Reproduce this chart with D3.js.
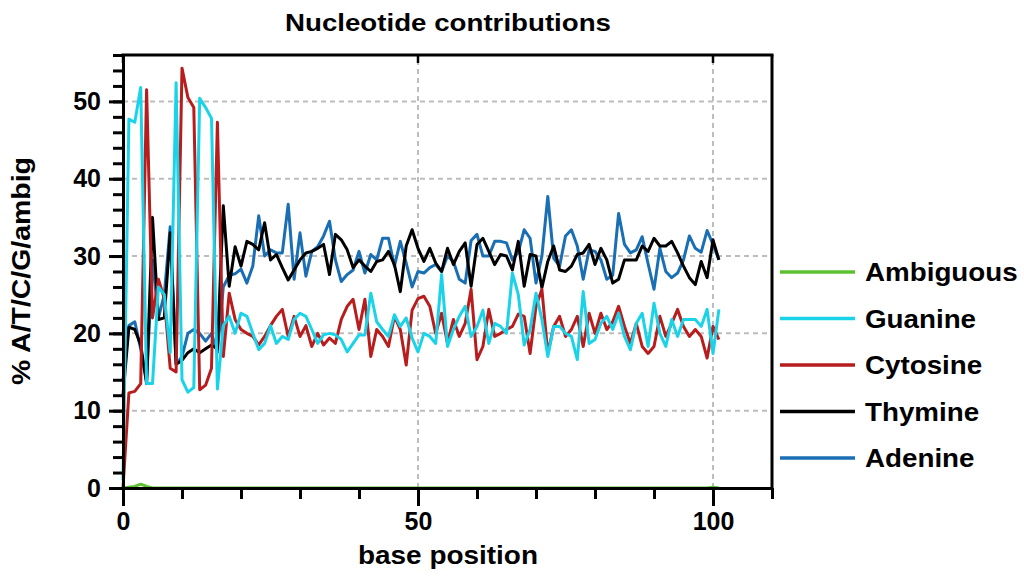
<!DOCTYPE html>
<html>
<head>
<meta charset="utf-8">
<script src="https://cdn.jsdelivr.net/npm/d3@7"></script>
<style>
  body { margin: 0; background: #fff; }
  svg text { font-family: "Liberation Sans", Arial, sans-serif; font-weight: bold; fill: #000; }
</style>
</head>
<body>
<div id="chart"></div>
<script>
// per-base percentages, positions 0..101
const positions = d3.range(0, 102)

const adenine = [
  14, 21, 21.5, 18, 13.8, 29.5, 22, 25, 33.8, 16, 17, 20, 20.5, 20, 19, 20, 17.5, 26,
  27.5, 27.7, 28.3, 26.5, 28.7, 35.2, 30, 30.8, 30.4, 30.4, 36.7, 27, 33, 27.4, 30.6, 31.2,
  32.6, 34.5, 29.5, 26.7, 27.6, 28.2, 30.6, 27.8, 30.2, 29.5, 32.3, 32.3, 28.7, 31.9, 29.1, 26, 28,
  27.8, 28.5, 28.9, 28, 30, 29.3, 27, 26.5, 32, 32.8, 30, 30, 31.9, 31.9, 31.7, 29.5, 30.5,
  33.4, 32.3, 26.5, 30, 37.7, 29.7, 28.7, 32.6, 33.4, 31.3, 27, 30.8, 30.6, 29.5, 27, 27.5,
  35.5, 31.5, 30.4, 30.8, 32.5, 29, 25.7, 31, 28, 27.2, 27.8, 29.5, 32.6, 31, 30.5, 33.3, 31.5, 29.5
]
const thymine = [
  12, 20.8, 20.5, 18.5, 13.5, 35, 21.8, 22, 33, 16, 16.5, 17.5, 18, 17.5, 18, 18.5, 18, 36.5,
  26.1, 31.2, 28.7, 31.9, 31.5, 30.8, 34.3, 29.5, 30.2, 28.5, 26.9, 28.2, 29.5, 30.4, 30.6, 31,
  31.5, 27.6, 32.8, 32.1, 30.8, 28.5, 29.5, 28.7, 28, 29.3, 29.5, 30.6, 28.9, 25.4, 31.3, 33.4, 31,
  29.3, 31, 29.1, 28, 31, 28.9, 30.6, 31.7, 26.1, 31.5, 32.3, 30.6, 28.9, 30.2, 30, 28.2, 31.9,
  26.1, 30.2, 30, 25.9, 29.3, 31.3, 28.2, 28, 28.7, 30.2, 30.4, 31.5, 28.9, 31, 29.5, 26.5,
  27, 29.5, 29.5, 29.5, 31.3, 30.6, 32.3, 31.3, 31.3, 31.9, 30.4, 28.7, 27.2, 26.3, 29.3, 27.2, 32.1, 29.5
]
const cytosine = [
  0, 12.3, 12.5, 13.5, 51.5, 22, 27, 24.5, 15.5, 15, 54.3, 50.5, 49.2, 12.7, 13.3, 15.5, 47.3, 17,
  25.2, 21.8, 20.5, 20, 19.6, 18.5, 19.6, 21, 22.2, 23.1, 19.6, 22.2, 19.6, 21, 18.3, 20,
  18.5, 19.4, 18.7, 21.8, 23.5, 24.4, 20.5, 24.4, 17, 20.5, 19.6, 18.3, 22.2, 20.5, 15.9, 23, 24.5,
  24.8, 23.5, 20, 22.6, 18.7, 21.8, 19.6, 21.3, 25.7, 16.6, 18.3, 23.1, 19.6, 20, 20.5, 20.9, 22.5,
  22.2, 17.4, 23.5, 25.7, 17.4, 20.9, 22.2, 19.6, 20.5, 22.2, 18.3, 22.6, 20, 22.6, 20.5, 21.5,
  23.5, 20.9, 18.7, 21.3, 18.3, 17.4, 18.3, 22.2, 19.6, 21.3, 23.1, 20.9, 19.6, 20.5, 19.6, 16.8, 20.9, 19.2
]
const guanine = [
  1, 47.7, 47.3, 51.8, 13.5, 13.5, 26, 25, 17.5, 52.4, 14, 12.4, 13, 50.4, 49.2, 47.8, 12.8, 21,
  22.2, 20, 22.6, 22.2, 20, 17.9, 18.7, 21, 18.7, 19.6, 19.2, 21.8, 22.6, 22.2, 20.5, 18.7,
  19.8, 20, 19.8, 19.2, 17.6, 18.7, 19.8, 19.8, 25.2, 21.5, 20.5, 19.6, 22.4, 20.9, 22, 19.4, 17.6,
  20, 19.6, 18.7, 27.6, 18.3, 20.5, 22.2, 23.5, 19.6, 20.9, 23, 18.7, 21.3, 20.9, 20, 27.8, 25,
  18.5, 20.5, 25.2, 21.8, 17, 20.9, 20.9, 20, 19.6, 16.6, 25.4, 18.7, 19.2, 21.3, 22.2, 20.5,
  22.6, 19.6, 17.9, 21.3, 22.6, 18.3, 23.9, 20, 18.3, 21.8, 19.6, 21.8, 21.8, 21.8, 20.9, 23.1, 17.4, 23.1
]
const ambiguous = [
  0, 0.1, 0.2, 0.5, 0.2, 0, 0, 0, 0, 0, 0, 0, 0, 0, 0, 0, 0, 0,
  0, 0, 0, 0, 0, 0, 0, 0, 0, 0, 0, 0, 0, 0, 0, 0,
  0, 0, 0, 0, 0, 0, 0, 0, 0, 0, 0, 0, 0, 0, 0, 0, 0,
  0, 0, 0, 0, 0, 0, 0, 0, 0, 0, 0, 0, 0, 0, 0, 0, 0,
  0, 0, 0, 0, 0, 0, 0, 0, 0, 0, 0, 0, 0, 0, 0, 0, 0,
  0, 0, 0, 0, 0, 0, 0, 0, 0, 0, 0, 0, 0, 0, 0, 0.1, 0, 0
]

// draw order bottom -> top; legend lists it reversed
const seriesNames = ["Adenine", "Thymine", "Cytosine", "Guanine", "Ambiguous"]
const seriesValues = [adenine, thymine, cytosine, guanine, ambiguous]
const seriesColors = ["#1a6fb4", "#000000", "#b81d1d", "#1ad3e8", "#5bc12e"]

const xTicksMajor = [0, 50, 100]
const yTicksMajor = [0, 10, 20, 30, 40, 50]

const W = 1024, H = 577
const MARGIN = { TOP: 55, BOTTOM: 89, LEFT: 123, RIGHT: 252 }

const svg = d3.select("#chart").append("svg")
    .attr("width", W)
    .attr("height", H)

const x = d3.scaleLinear().domain([0, 110]).range([MARGIN.LEFT, W - MARGIN.RIGHT])
const y = d3.scaleLinear().domain([0, 56]).range([H - MARGIN.BOTTOM, MARGIN.TOP])

// grid
const grid = svg.append("g")
grid.selectAll(".gy").data(yTicksMajor.filter(d => d > 0)).enter().append("line")
    .attr("x1", x(0)).attr("x2", x(110))
    .attr("y1", d => y(d)).attr("y2", d => y(d))
grid.selectAll(".gx").data(xTicksMajor.filter(d => d > 0)).enter().append("line")
    .attr("x1", d => x(d)).attr("x2", d => x(d))
    .attr("y1", y(0)).attr("y2", y(56))
grid.selectAll("line")
    .attr("stroke", "#bdbdbd")
    .attr("stroke-width", 2)
    .attr("stroke-dasharray", "5,4")

// lines
const line = d3.line()
    .x((d, i) => x(positions[i]))
    .y(d => y(d))

svg.append("g").selectAll("path")
    .data(seriesValues)
    .enter().append("path")
    .attr("d", d => line(d))
    .attr("fill", "none")
    .attr("stroke", (d, i) => seriesColors[i])
    .attr("stroke-width", 3)
    .attr("stroke-linejoin", "round")

// frame: top and right
svg.append("line")
    .attr("x1", x(0) - 1.5).attr("x2", x(110) + 1.5)
    .attr("y1", y(56)).attr("y2", y(56))
    .attr("stroke", "#000").attr("stroke-width", 3)
svg.append("line")
    .attr("x1", x(110)).attr("x2", x(110))
    .attr("y1", y(56)).attr("y2", y(0))
    .attr("stroke", "#000").attr("stroke-width", 3)
svg.append("g").selectAll("line").data(xTicksMajor).enter().append("line")
    .attr("x1", d => x(d)).attr("x2", d => x(d))
    .attr("y1", y(56)).attr("y2", y(56) + 8)
    .attr("stroke", "#000").attr("stroke-width", 2.5)

function styleAxis(g) {
    g.selectAll("path, line").attr("stroke", "#000").attr("stroke-width", 3)
    g.selectAll("text")
        .attr("font-family", "'Liberation Sans', Arial, sans-serif")
        .attr("font-weight", "bold")
        .attr("font-size", 25)
}

// x axis: minor every 10, major with labels
svg.append("g")
    .attr("transform", `translate(0, ${y(0)})`)
    .call(d3.axisBottom(x).tickValues(d3.range(0, 111, 10)).tickSize(11).tickFormat("").tickSizeOuter(0))
    .call(styleAxis)
svg.append("g")
    .attr("transform", `translate(0, ${y(0)})`)
    .call(d3.axisBottom(x).tickValues(xTicksMajor).tickSize(18).tickPadding(6).tickSizeOuter(0))
    .call(styleAxis)

// y axis: minor every 2, major with labels
svg.append("g")
    .attr("transform", `translate(${x(0)}, 0)`)
    .call(d3.axisLeft(y).tickValues(d3.range(0, 57, 2)).tickSize(10).tickFormat("").tickSizeOuter(0))
    .call(styleAxis)
svg.append("g")
    .attr("transform", `translate(${x(0)}, 0)`)
    .call(d3.axisLeft(y).tickValues(yTicksMajor).tickSize(14).tickPadding(8).tickSizeOuter(0))
    .call(styleAxis)

// titles
svg.append("text")
    .attr("x", 448).attr("y", 31)
    .attr("text-anchor", "middle")
    .attr("font-size", 24)
    .attr("textLength", 326).attr("lengthAdjust", "spacingAndGlyphs")
    .text("Nucleotide contributions")

svg.append("text")
    .attr("x", 448).attr("y", 564)
    .attr("text-anchor", "middle")
    .attr("font-size", 25)
    .attr("textLength", 180).attr("lengthAdjust", "spacingAndGlyphs")
    .text("base position")

svg.append("text")
    .attr("transform", `translate(30, 271) rotate(-90)`)
    .attr("text-anchor", "middle")
    .attr("font-size", 25)
    .attr("textLength", 228).attr("lengthAdjust", "spacingAndGlyphs")
    .text("% A/T/C/G/ambig")

// legend
const legendOrder = seriesNames.map((n, i) => i).reverse()
const legend = svg.append("g").selectAll("g")
    .data(legendOrder)
    .enter().append("g")
    .attr("transform", (d, k) => `translate(780, ${272 + k * 46.5})`)

legend.append("line")
    .attr("x1", 0).attr("x2", 75)
    .attr("stroke", d => seriesColors[d])
    .attr("stroke-width", 3.5)

legend.append("text")
    .attr("x", 85).attr("y", 9)
    .attr("font-size", 25)
    .text(d => seriesNames[d])
    .each(function() {
        // reference glyphs run wider than Liberation Sans
        const w = this.getComputedTextLength()
        d3.select(this).attr("textLength", w * 1.11).attr("lengthAdjust", "spacingAndGlyphs")
    })
</script>
</body>
</html>
